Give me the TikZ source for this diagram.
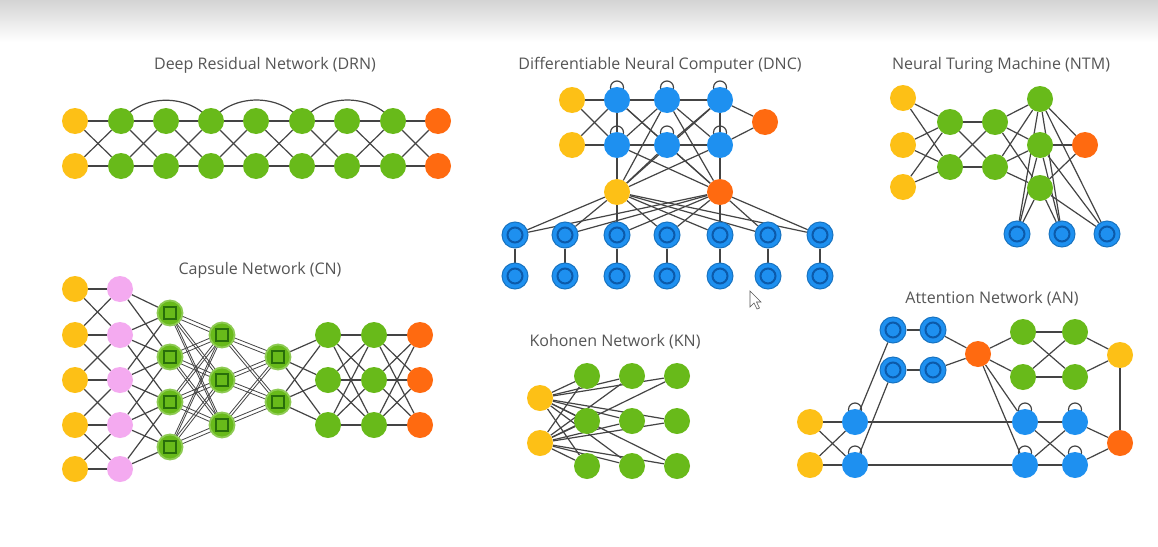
\documentclass[tikz,border=0pt]{standalone}
\usepackage{fontspec}
\setmainfont{Open Sans}
\usetikzlibrary{calc}
\definecolor{cY}{RGB}{253,192,22}
\definecolor{cG}{RGB}{104,186,26}
\definecolor{cGd}{RGB}{40,110,10}
\definecolor{cO}{RGB}{255,106,16}
\definecolor{cB}{RGB}{30,144,240}
\definecolor{cBd}{RGB}{12,90,170}
\definecolor{cP}{RGB}{244,170,240}
\definecolor{cE}{RGB}{68,68,68}
\definecolor{cT}{RGB}{85,85,85}
\definecolor{cBg}{RGB}{212,212,212}
\pgfdeclarelayer{back}
\pgfdeclarelayer{bg}
\pgfsetlayers{back,bg,main}
\begin{document}
\begin{tikzpicture}[x=1pt,y=1pt,
  nd/.style={circle,minimum size=26pt,inner sep=0pt},
  yel/.style={nd,fill=cY},
  grn/.style={nd,fill=cG},
  org/.style={nd,fill=cO},
  blu/.style={nd,fill=cB},
  pnk/.style={nd,fill=cP},
  ring/.style={nd,fill=cB,draw=cB!80!black,line width=1pt,
    path picture={\draw[cBd,line width=2pt] (path picture bounding box.center) circle[radius=7.5];}},
  caps/.style={nd,minimum size=25pt,fill=cG,draw=cG!75!white,line width=1.8pt,
    path picture={\draw[cGd,line width=1.8pt] ([shift={(-6,-6)}]path picture bounding box.center) rectangle ([shift={(6,6)}]path picture bounding box.center);}},
  edge/.style={draw=cE,line width=1.2pt},
  thin/.style={draw=cE,line width=0.8pt},
  ttl/.style={text=cT,font=\fontsize{16}{18}\selectfont,inner sep=0pt}]
\useasboundingbox (0,0) rectangle (1158,-546);
\begin{pgfonlayer}{back}
\fill[white] (0,0) rectangle (1158,-546);
\shade[top color=cBg,bottom color=white] (0,0) rectangle (1158,-42);
\end{pgfonlayer}

% ---------------- titles
\node[ttl] (tdrn) at (265,-65) {Deep Residual Network (DRN)};
\node[ttl] (tdnc) at (660,-65) {Differentiable Neural Computer (DNC)};
\node[ttl] (tntm) at (1001,-65) {Neural Turing Machine (NTM)};
\node[ttl] (tcn) at (260,-270) {Capsule Network (CN)};
\node[ttl] (tkn) at (615,-342) {Kohonen Network (KN)};
\node[ttl] (tan) at (992,-299) {Attention Network (AN)};

% ---------------- DRN
\foreach \i/\x/\s in {0/75/yel,1/121/grn,2/166/grn,3/211/grn,4/256/grn,5/302/grn,6/347/grn,7/393/grn,8/438/org}{
  \node[\s] (rt\i) at (\x,-121) {};
  \node[\s] (rb\i) at (\x,-166) {};
}
\begin{pgfonlayer}{bg}
\foreach \i [evaluate=\i as \j using int(\i+1)] in {0,...,7}{
  \draw[edge] (rt\i)--(rt\j); \draw[edge] (rb\i)--(rb\j);
  \draw[edge] (rt\i)--(rb\j); \draw[edge] (rb\i)--(rt\j);
}
\foreach \a/\b in {1/3,3/5,5/7}
  \draw[edge] (rt\a.center) to[out=52,in=128] (rt\b.center);
\end{pgfonlayer}

% ---------------- DNC
\node[yel] (di1) at (572,-100) {};
\node[yel] (di2) at (572,-145) {};
\foreach \c/\x in {1/617,2/667,3/720}{
  \node[blu] (dm1\c) at (\x,-100) {};
  \node[blu] (dm2\c) at (\x,-145) {};
}
\node[org] (do) at (765,-122) {};
\node[yel] (dY) at (617,-192) {};
\node[org] (dO) at (720,-192) {};
\foreach \k/\x in {1/515,2/565,3/617,4/667,5/720,6/768,7/820}{
  \node[ring] (db\k) at (\x,-235) {};
  \node[ring] (dc\k) at (\x,-276) {};
}
\begin{pgfonlayer}{bg}
\foreach \a in {di1,di2} \foreach \b in {dm11,dm21} \draw[edge] (\a)--(\b);
\foreach \c/\d in {1/2,2/3} \foreach \r in {1,2} \foreach \s in {1,2} \draw[edge] (dm\r\c)--(dm\s\d);
\foreach \r in {1,2} \draw[edge] (dm\r3)--(do);
\foreach \a in {dY,dO}{
  \foreach \r in {1,2} \foreach \c in {1,2,3} \draw[edge] (\a)--(dm\r\c);
  \foreach \k in {1,...,7} \draw[edge] (\a)--(db\k);
}
\foreach \k in {1,...,7} \draw[edge] (db\k)--(dc\k);
\foreach \r in {1,2} \foreach \c in {1,2,3} \draw[edge] ([yshift=12.5]dm\r\c.center) circle[radius=6.5];
\end{pgfonlayer}

% ---------------- NTM
\foreach \k/\y in {1/98,2/145,3/187} \node[yel] (ny\k) at (903,-\y) {};
\foreach \k/\y in {1/122,2/167}{
  \node[grn] (na\k) at (950,-\y) {};
  \node[grn] (nb\k) at (995,-\y) {};
}
\foreach \k/\y in {1/99,2/145,3/188} \node[grn] (nc\k) at (1040,-\y) {};
\node[org] (no) at (1085,-145) {};
\foreach \k/\x in {1/1017,2/1062,3/1107} \node[ring] (nm\k) at (\x,-234) {};
\begin{pgfonlayer}{bg}
\foreach \a in {1,2,3} \foreach \b in {1,2} \draw[edge] (ny\a)--(na\b);
\foreach \a in {1,2} \foreach \b in {1,2} \draw[edge] (na\a)--(nb\b);
\foreach \a in {1,2} \foreach \b in {1,2,3} \draw[edge] (nb\a)--(nc\b);
\foreach \a in {1,2,3}{
  \draw[edge] (nc\a)--(no);
  \foreach \b in {1,2,3} \draw[edge] (nc\a)--(nm\b);
}
\end{pgfonlayer}

% ---------------- CN
\foreach \k/\y in {1/289,2/335,3/380,4/425,5/469}{
  \node[yel] (cy\k) at (75,-\y) {};
  \node[pnk] (cp\k) at (120,-\y) {};
}
\foreach \k/\y in {1/313,2/357,3/402,4/447} \node[caps] (ca\k) at (170,-\y) {};
\foreach \k/\y in {1/335,2/380,3/425} \node[caps] (cb\k) at (222,-\y) {};
\foreach \k/\y in {1/357,2/402} \node[caps] (cc\k) at (278,-\y) {};
\foreach \k/\y in {1/335,2/380,3/425}{
  \node[grn] (cg\k) at (328,-\y) {};
  \node[grn] (ch\k) at (374,-\y) {};
  \node[org] (co\k) at (420,-\y) {};
}
\begin{pgfonlayer}{bg}
\foreach \a/\b in {1/1,1/2,2/1,2/2,2/3,3/2,3/3,3/4,4/3,4/4,4/5,5/4,5/5} \draw[edge] (cy\a)--(cp\b);
\foreach \a/\b in {1/1,1/2,2/1,2/2,2/3,3/1,3/2,3/3,3/4,4/2,4/3,4/4,5/3,5/4} \draw[edge] (cp\a)--(ca\b);
\foreach \a in {1,...,4} \foreach \b in {1,2,3}{
  \draw[thin] ([yshift=2]ca\a.center)--([yshift=2]cb\b.center);
  \draw[thin] ([yshift=-2]ca\a.center)--([yshift=-2]cb\b.center);
}
\foreach \a in {1,2,3} \foreach \b in {1,2}{
  \draw[thin] ([yshift=2]cb\a.center)--([yshift=2]cc\b.center);
  \draw[thin] ([yshift=-2]cb\a.center)--([yshift=-2]cc\b.center);
}
\foreach \a in {1,2} \foreach \b in {1,2,3} \draw[edge] (cc\a)--(cg\b);
\foreach \a in {1,2,3} \foreach \b in {1,2,3}{
  \draw[edge] (cg\a)--(ch\b);
  \draw[edge] (ch\a)--(co\b);
}
\end{pgfonlayer}

% ---------------- KN
\node[yel] (ky1) at (540,-398) {};
\node[yel] (ky2) at (540,-443) {};
\foreach \c/\x in {1/587,2/632,3/677} \foreach \r/\y in {1/376,2/421,3/466}
  \node[grn] (kg\r\c) at (\x,-\y) {};
\begin{pgfonlayer}{bg}
\foreach \a in {1,2} \foreach \r in {1,2,3} \foreach \c in {1,2,3} \draw[edge] (ky\a)--(kg\r\c);
\end{pgfonlayer}

% ---------------- AN
\node[ring] (ar1) at (893,-330) {};
\node[ring] (ar2) at (933,-330) {};
\node[ring] (ar3) at (893,-370) {};
\node[ring] (ar4) at (933,-370) {};
\node[org] (aot) at (978,-354) {};
\node[grn] (ag1) at (1023,-332) {};
\node[grn] (ag2) at (1075,-332) {};
\node[grn] (ag3) at (1023,-377) {};
\node[grn] (ag4) at (1075,-377) {};
\node[yel] (ayr) at (1120,-355) {};
\node[yel] (ay1) at (810,-422) {};
\node[yel] (ay2) at (810,-465) {};
\node[blu] (al1) at (855,-422) {};
\node[blu] (al2) at (855,-465) {};
\node[blu] (aq1) at (1025,-422) {};
\node[blu] (aq2) at (1075,-422) {};
\node[blu] (aq3) at (1025,-465) {};
\node[blu] (aq4) at (1075,-465) {};
\node[org] (aob) at (1120,-443) {};
\begin{pgfonlayer}{bg}
\draw[edge] (ar1)--(ar2); \draw[edge] (ar3)--(ar4);
\draw[edge] (ar2)--(aot); \draw[edge] (ar4)--(aot);
\draw[edge] (aot)--(ag1); \draw[edge] (aot)--(ag3);
\foreach \a in {ag1,ag3} \foreach \b in {ag2,ag4} \draw[edge] (\a)--(\b);
\draw[edge] (ag2)--(ayr); \draw[edge] (ag4)--(ayr);
\draw[edge] (ayr)--(aob);
\draw[edge] (aot)--(aq1); \draw[edge] (aot)--(aq3);
\foreach \a in {ay1,ay2} \foreach \b in {al1,al2} \draw[edge] (\a)--(\b);
\draw[edge] (al1)--(ar1); \draw[edge] (al2)--(ar3);
\draw[edge] (al1)--(aq1); \draw[edge] (al2)--(aq3);
\foreach \a in {aq1,aq3} \foreach \b in {aq2,aq4} \draw[edge] (\a)--(\b);
\draw[edge] (aq2)--(aob); \draw[edge] (aq4)--(aob);
\foreach \n in {al1,al2,aq1,aq2,aq3,aq4} \draw[edge] ([yshift=12.5]\n.center) circle[radius=6.5];
\end{pgfonlayer}

% ---------------- cursor
\draw[cT,fill=white,line width=0.6pt] (750,-291)--(750,-307)--(754,-303)--(757,-309)--(759.5,-308)--(756.5,-302)--(761,-302)--cycle;
\end{tikzpicture}
\end{document}
